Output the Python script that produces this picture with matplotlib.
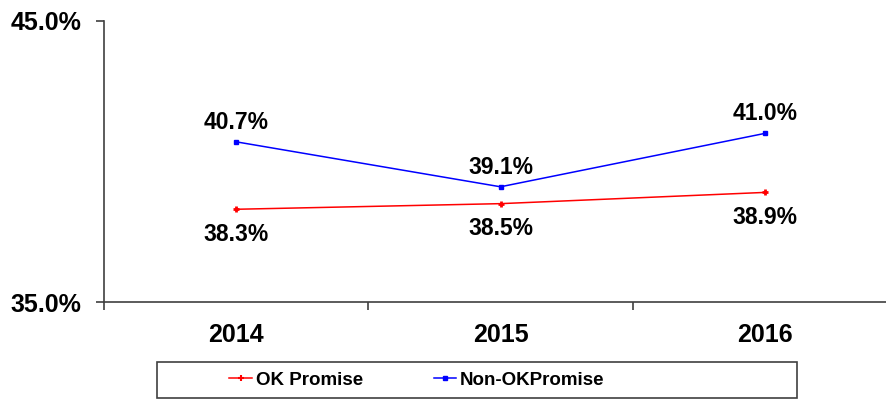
import matplotlib
matplotlib.use("Agg")
import matplotlib.pyplot as plt
from matplotlib.patches import Rectangle
from matplotlib.lines import Line2D

years = ["2014", "2015", "2016"]
ok_promise = [38.3, 38.5, 38.9]
non_ok_promise = [40.7, 39.1, 41.0]
series_names = ["OK Promise", "Non-OKPromise"]
y_ticks = [35.0, 45.0]

plt.rcParams['font.family'] = ['Liberation Sans', 'DejaVu Sans']
plt.rcParams['font.weight'] = 'bold'

fig = plt.figure(figsize=(8.86, 4.01), dpi=100)
ax = fig.add_axes([104/886, (401-302)/401, (886-104)/886, (302-21)/401])

x = list(range(len(years)))
red = '#FF0000'
blue = '#0000FF'
ax.plot(x, ok_promise, color=red, lw=1.1, marker='+', ms=5, mew=2, zorder=3)
ax.plot(x, non_ok_promise, color=blue, lw=1.1, marker='s', ms=3.5, zorder=3)

for xi, v in zip(x, ok_promise):
    ax.annotate(f"{v:.1f}%", (xi, v), xytext=(0, -18), textcoords='offset points',
                ha='center', va='center', fontsize=16.5, fontweight='bold')
for xi, v in zip(x, non_ok_promise):
    ax.annotate(f"{v:.1f}%", (xi, v), xytext=(0, 14), textcoords='offset points',
                ha='center', va='center', fontsize=16.5, fontweight='bold')

ax.set_ylim(35, 45)
ax.set_xlim(-0.5, 2.5 - 11/264)
ax.set_yticks(y_ticks)
ax.set_yticklabels([f"{t:.1f}%" for t in y_ticks], fontsize=18, fontweight='bold')
ax.tick_params(axis='y', direction='out', length=5.5, width=1.2, color='#404040', pad=11)

ax.set_xticks([-0.5, 0.5, 1.5])
ax.set_xticklabels([])
ax.set_xticks(x, minor=True)
ax.set_xticklabels(years, minor=True, fontsize=18, fontweight='bold')
ax.tick_params(axis='x', which='minor', length=0, pad=15)
ax.tick_params(axis='x', which='major', direction='out', length=6, width=1.2, color='#404040')

for s in ['top', 'right']:
    ax.spines[s].set_visible(False)
for s in ['left', 'bottom']:
    ax.spines[s].set_color('#404040')
    ax.spines[s].set_linewidth(1.2)

# legend box
fig.patches.append(Rectangle((157/886, (401-398)/401), 640/886, 36/401,
                             transform=fig.transFigure, fill=False,
                             edgecolor='#404040', lw=1.2))
handles = [Line2D([], [], color=red, lw=1.1, marker='+', ms=4, mew=1.5),
           Line2D([], [], color=blue, lw=1.1, marker='s', ms=3)]
fig.legend(handles, series_names, loc='center', bbox_to_anchor=(417/886, (401-380)/401),
           ncol=2, frameon=False, handlelength=1.2, handletextpad=0.2,
           columnspacing=3.8, prop={'size': 13.5, 'weight': 'bold'})

fig.savefig("out.png", dpi=100)
